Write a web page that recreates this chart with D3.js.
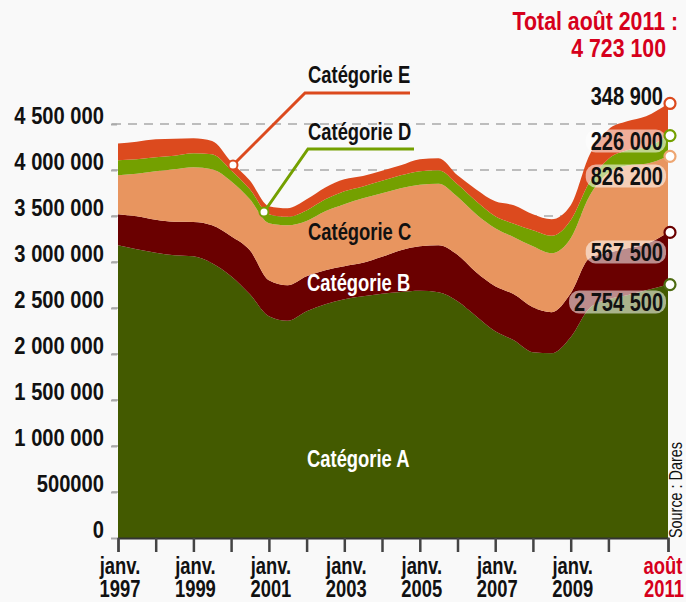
<!DOCTYPE html>
<html lang="fr">
<head>
<meta charset="utf-8">
<script src="https://cdn.jsdelivr.net/npm/d3@7"></script>
<style>
  body { margin: 0; background: #f9f9f9; }
  svg { display: block; font-family: "Liberation Sans", Arial, sans-serif; font-weight: bold; }
</style>
</head>
<body>
<div class="chart"></div>
<script>
// semi-annual readings, last point = août 2011
const months = ["1997-01","1997-07","1998-01","1998-07","1999-01","1999-07","2000-01","2000-07",
  "2001-01","2001-07","2002-01","2002-07","2003-01","2003-07","2004-01","2004-07","2005-01","2005-07",
  "2006-01","2006-07","2007-01","2007-07","2008-01","2008-07","2009-01","2009-07","2010-01","2010-07",
  "2011-01","2011-08"];

const catA = [3182000,3138000,3100000,3073000,3062000,2986000,2845000,2649000,2410000,2361000,
  2464000,2540000,2595000,2627000,2654000,2674000,2687000,2671000,2573000,2410000,
  2247000,2149000,2019000,2008000,2182000,2497000,2595000,2638000,2692000,2754500];
const catB = [337000,359000,359000,364000,373000,413000,435000,478000,391000,386000,
  380000,370000,359000,364000,402000,453000,484000,511000,505000,478000,
  489000,500000,489000,446000,478000,544000,505000,511000,505000,567500];
const catC = [424000,462000,527000,571000,595000,609000,598000,554000,620000,652000,
  603000,641000,674000,701000,690000,674000,669000,669000,630000,630000,
  630000,620000,663000,641000,598000,674000,870000,900000,870000,826200];
const catD = [163000,158000,152000,147000,152000,163000,120000,109000,98000,92000,
  114000,130000,141000,130000,136000,141000,147000,147000,136000,141000,
  130000,147000,174000,190000,196000,152000,150000,165000,180000,226000];
const catE = [182000,190000,196000,185000,163000,145000,92000,95000,87000,92000,
  120000,130000,130000,114000,109000,109000,130000,130000,98000,130000,
  163000,201000,174000,179000,163000,293000,321000,315000,337000,348900];

const categories = ["A", "B", "C", "D", "E"];
const categoryNames = ["Catégorie A", "Catégorie B", "Catégorie C", "Catégorie D", "Catégorie E"];
const yTicks = [0, 500000, 1000000, 1500000, 2000000, 2500000, 3000000, 3500000, 4000000, 4500000];
const yTickLabels = ["0", "500000", "1 000 000", "1 500 000", "2 000 000", "2 500 000",
  "3 000 000", "3 500 000", "4 000 000", "4 500 000"];
const xLabelYears = [1997, 1999, 2001, 2003, 2005, 2007, 2009];
const totalLabel = ["Total août 2011 :", "4 723 100"];

const colors = { A: "#435a00", B: "#6a0000", C: "#e8955f", D: "#74a000", E: "#dc4a1e" };
const ringColors = { A: "#4d6b12", B: "#6a0000", C: "#eea672", D: "#74a000", E: "#dc4a1e" };
const red = "#d6001c";
const narrow = 0.8; // no condensed font installed, squeeze Liberation Sans instead

const width = 686, height = 602;
const parse = d3.timeParse("%Y-%m");
const series = [catA, catB, catC, catD, catE];
const rows = months.map((m, i) => {
  const r = { date: parse(m) };
  categories.forEach((k, j) => { r[k] = series[j][i]; });
  return r;
});

const svg = d3.select(".chart")
  .append("svg")
  .attr("width", width)
  .attr("height", height);

function label(g, px, py, str, size, fill, anchor = "start", sx = narrow) {
  return g.append("text")
    .attr("transform", `translate(${px},${py}) scale(${sx},1)`)
    .attr("font-size", size)
    .attr("fill", fill)
    .attr("text-anchor", anchor)
    .text(str);
}

const x = d3.scaleTime()
  .domain([rows[0].date, rows[rows.length - 1].date])
  .range([118, 668]);

const y = d3.scaleLinear()
  .domain([0, 4500000])
  .range([538, 124]);

// dashed grid behind the areas
svg.append("g")
  .selectAll("line")
  .data(yTicks.filter(d => d > 0))
  .join("line")
  .attr("x1", 112).attr("x2", 662)
  .attr("y1", d => y(d)).attr("y2", d => y(d))
  .attr("stroke", "#bdbdbd")
  .attr("stroke-width", 2)
  .attr("stroke-dasharray", "9,7");

const stacked = d3.stack().keys(categories)(rows);

const area = d3.area()
  .x(d => x(d.data.date))
  .y0(d => y(d[0]))
  .y1(d => y(d[1]))
  .curve(d3.curveMonotoneX);

svg.append("g")
  .selectAll("path")
  .data(stacked)
  .join("path")
  .attr("fill", d => colors[d.key])
  .attr("d", area);

// y axis: small ticks + labels sitting on them
svg.append("g")
  .attr("transform", "translate(117,0)")
  .call(d3.axisLeft(y).tickValues(yTicks).tickSize(6).tickFormat(""))
  .call(g => g.select(".domain").remove())
  .call(g => g.selectAll(".tick line").attr("stroke", "#aaa").attr("stroke-width", 2));

const yl = svg.append("g");
yTicks.forEach((v, i) => label(yl, 104, y(v), yTickLabels[i], 24, "#111", "end", 0.84));

// x axis
const lastDate = rows[rows.length - 1].date;
const xTickValues = d3.range(1997, 2011).map(yr => new Date(yr, 0, 1)).concat([lastDate]);
svg.append("g")
  .attr("transform", "translate(0,538)")
  .call(d3.axisBottom(x).tickValues(xTickValues).tickSize(14).tickFormat(""))
  .call(g => g.select(".domain").attr("stroke", "#333").attr("stroke-width", 2))
  .call(g => g.selectAll(".tick line").attr("stroke", "#444").attr("stroke-width", 2.5));

const xl = svg.append("g");
xLabelYears.forEach(yr => {
  const cx = x(new Date(yr, 0, 1)) + 2;
  label(xl, cx, 574, "janv.", 23, "#111", "middle");
  label(xl, cx, 597, yr, 23, "#111", "middle");
});
label(xl, x(lastDate) - 5, 574, "août", 23, red, "middle");
label(xl, x(lastDate) - 4, 597, "2011", 23, red, "middle");

// total in the top right corner
const tg = svg.append("g");
label(tg, 678, 30, totalLabel[0], 26, red, "end", 0.82);
label(tg, 666, 57, totalLabel[1], 26, red, "end", 0.82);

// category labels
const catLabels = [
  { name: categoryNames[4], x: 308, y: 83, fill: "#111" },
  { name: categoryNames[3], x: 308, y: 140, fill: "#111" },
  { name: categoryNames[2], x: 308, y: 240, fill: "#111" },
  { name: categoryNames[1], x: 307, y: 291, fill: "#fff" },
  { name: categoryNames[0], x: 307, y: 467, fill: "#fff" }
];
const cg = svg.append("g");
catLabels.forEach(d => label(cg, d.x, d.y, d.name, 23, d.fill));

// leader lines for the thin bands
const leaders = [
  { pts: [[233, 165], [305, 93], [410, 93]], color: colors.E },
  { pts: [[264, 212], [308, 149], [414, 149]], color: colors.D }
];
leaders.forEach(l => {
  svg.append("path")
    .attr("d", d3.line()(l.pts))
    .attr("fill", "none")
    .attr("stroke", l.color)
    .attr("stroke-width", 3);
  svg.append("circle")
    .attr("cx", l.pts[0][0]).attr("cy", l.pts[0][1]).attr("r", 4.5)
    .attr("fill", "#fff").attr("stroke", l.color).attr("stroke-width", 2);
});

// final values on the right
const fmt = d3.formatLocale({ thousands: " ", grouping: [3], decimal: ",", currency: ["", ""] }).format(",");
const last = rows.length - 1;
const endLabels = [
  { key: "E", y: 96, pill: false },
  { key: "D", y: 141, pill: true },
  { key: "C", y: 176, pill: true },
  { key: "B", y: 252, pill: true },
  { key: "A", y: 302, pill: true }
];
const pg = svg.append("g");
const lg = svg.append("g");
endLabels.forEach(l => {
  const s = stacked[categories.indexOf(l.key)];
  const t = label(lg, 663, l.y + 8.5, fmt(s[last].data[l.key]), 25, "#111", "end");
  if (l.pill) {
    const w = t.node().getBBox().width * narrow;
    pg.append("rect")
      .attr("x", 663 - w - 5).attr("y", l.y - 11.5)
      .attr("width", w + 8).attr("height", 23)
      .attr("rx", 10)
      .attr("fill", "#fff").attr("fill-opacity", 0.55);
  }
  svg.append("circle")
    .attr("cx", x(lastDate) + 2).attr("cy", y(s[last][1]))
    .attr("r", 5.5)
    .attr("fill", "#fff")
    .attr("stroke", ringColors[l.key])
    .attr("stroke-width", 2.2);
});

// source
svg.append("text")
  .attr("transform", `translate(682,538) rotate(-90) scale(${narrow},1)`)
  .attr("font-size", 18)
  .attr("font-weight", "normal")
  .attr("fill", "#111")
  .text("Source : Dares");
</script>
</body>
</html>
